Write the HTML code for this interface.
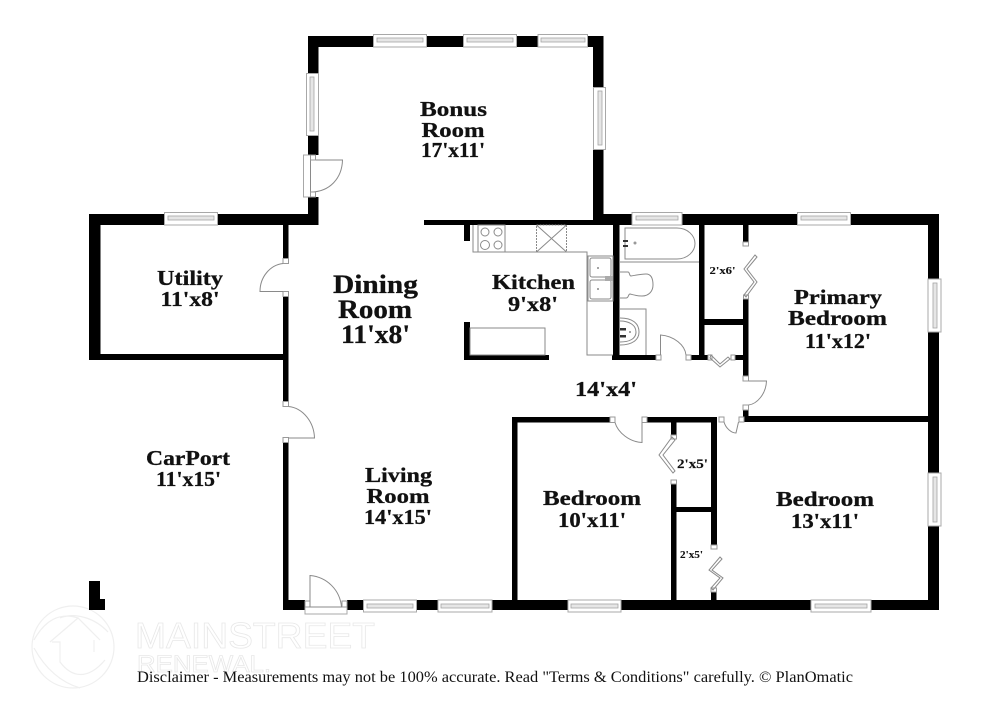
<!DOCTYPE html>
<html><head><meta charset="utf-8"><style>
html,body{margin:0;padding:0;background:#fff;width:990px;height:720px;overflow:hidden}
svg{display:block}
.w{fill:#000}
.l{fill:none;stroke:#8a8a8a;stroke-width:1}
.win{fill:#fff;stroke:#a8a8a8;stroke-width:1}
.wi{fill:#e6e6e6;stroke:#a5a5a5;stroke-width:.8}
.sq{fill:#fff;stroke:#999;stroke-width:1}
.t{font-family:"Liberation Serif",serif;font-weight:bold;fill:#111;text-anchor:middle;stroke:#111;stroke-width:.3}
</style></head><body>
<svg width="990" height="720" viewBox="0 0 990 720" xmlns="http://www.w3.org/2000/svg">
<!-- watermark -->
<g fill="none" stroke="#efefef" stroke-width="1.2">
<circle cx="73" cy="647" r="41"/>
<path d="M50 642 L78 618 L100 640 M52 642 H60 V662 C72 678 88 680 105 660 M94 640 V652"/>
<path d="M78 618 C60 612 45 620 34 640 M34 648 C45 668 60 682 80 688 M60 618 C75 612 95 618 108 632"/>
<text x="135" y="648" font-family="'Liberation Sans',sans-serif" font-size="36" textLength="240" lengthAdjust="spacingAndGlyphs" stroke="#e8e8e8" stroke-width=".8">MAINSTREET</text>
<text x="137" y="672" font-family="'Liberation Sans',sans-serif" font-size="24" textLength="134" lengthAdjust="spacingAndGlyphs" stroke="#e8e8e8" stroke-width=".8">RENEWAL.</text>
</g>
<!-- walls -->
<g class="w">
<rect x="308" y="36" width="295" height="11"/>
<rect x="308" y="36" width="10.5" height="119"/>
<rect x="308" y="197" width="10.5" height="28"/>
<rect x="593" y="36" width="10.5" height="189"/>
<rect x="424" y="220" width="180" height="5"/>
<rect x="593" y="214" width="346" height="11"/>
<rect x="89" y="214" width="229" height="11"/>
<rect x="89" y="214" width="11.5" height="146"/>
<rect x="89" y="354" width="199" height="6"/>
<rect x="283" y="225" width="5.5" height="33"/>
<rect x="283" y="296" width="5.5" height="105"/>
<rect x="283" y="442" width="5.5" height="168"/>
<rect x="283" y="600" width="22" height="10"/>
<rect x="347" y="600" width="16" height="10"/>
<rect x="417" y="600" width="21" height="10"/>
<rect x="492" y="600" width="447" height="10"/>
<rect x="89" y="581" width="11" height="29"/>
<rect x="89" y="599" width="16" height="11"/>
<rect x="464" y="225" width="6" height="16"/>
<rect x="464" y="322" width="6" height="38"/>
<rect x="464" y="355" width="85" height="5"/>
<rect x="613" y="225" width="6.5" height="135"/>
<rect x="612" y="355" width="44" height="5"/>
<rect x="699" y="225" width="5.5" height="135"/>
<rect x="691" y="355" width="17" height="5"/>
<rect x="735" y="355" width="13" height="5"/>
<rect x="743" y="225" width="5.5" height="17"/>
<rect x="743" y="299" width="5.5" height="77"/>
<rect x="743" y="409" width="5.5" height="13"/>
<rect x="704" y="319" width="39" height="6"/>
<rect x="743" y="416" width="185" height="6"/>
<rect x="928" y="214" width="11" height="65"/>
<rect x="928" y="332" width="11" height="141"/>
<rect x="928" y="526" width="11" height="84"/>
<rect x="512" y="417" width="98" height="5.5"/>
<rect x="512" y="417" width="5.5" height="185"/>
<rect x="647" y="417" width="70" height="5.5"/>
<rect x="711" y="417" width="6" height="128"/>
<rect x="671" y="417" width="5.5" height="18"/>
<rect x="671" y="484" width="5.5" height="118"/>
<rect x="676" y="507" width="35" height="5"/>
<rect x="711" y="592" width="5.5" height="9"/>
</g>
<!-- windows horizontal -->
<g>
<rect class="win" x="373.5" y="34.500" width="53" height="12.500"/><rect class="wi" x="377" y="38" width="46" height="4"/>
<rect class="win" x="463.500" y="34.500" width="53" height="12.500"/><rect class="wi" x="467" y="38" width="46" height="4"/>
<rect class="win" x="538" y="34.500" width="49.500" height="12.500"/><rect class="wi" x="541" y="38" width="44" height="4"/>
<rect class="win" x="164.500" y="212.500" width="53" height="12.500"/><rect class="wi" x="168" y="216" width="46" height="4"/>
<rect class="win" x="632" y="212.500" width="50" height="12.500"/><rect class="wi" x="636" y="216" width="42" height="4"/>
<rect class="win" x="797.500" y="212.500" width="53" height="12.500"/><rect class="wi" x="801" y="216" width="46" height="4"/>
<rect class="win" x="363.500" y="600" width="53" height="12"/><rect class="wi" x="367" y="604" width="46" height="4"/>
<rect class="win" x="438" y="600" width="54" height="12"/><rect class="wi" x="441" y="604" width="48" height="4"/>
<rect class="win" x="568" y="600" width="53" height="12"/><rect class="wi" x="571" y="604" width="47" height="4"/>
<rect class="win" x="811" y="600" width="60" height="12"/><rect class="wi" x="815" y="604" width="52" height="4"/>
<!-- vertical -->
<rect class="win" x="306.500" y="73.500" width="12" height="62"/><rect class="wi" x="310" y="77" width="4" height="54"/>
<rect class="win" x="593.500" y="87.500" width="12" height="62"/><rect class="wi" x="598" y="91" width="4" height="54"/>
<rect class="win" x="928" y="279" width="13" height="53"/><rect class="wi" x="933" y="283" width="4" height="45"/>
<rect class="win" x="928" y="473" width="13" height="53"/><rect class="wi" x="933" y="477" width="4" height="45"/>
</g>
<!-- doors -->
<g>
<rect class="win" x="303.500" y="155" width="7" height="42"/>
<path class="l" d="M310.500 160H342.500C342 178 330 192 310.500 192V160"/>
<rect class="sq" x="310.500" y="155" width="5" height="5"/><rect class="sq" x="310.500" y="192" width="5" height="5"/>
<!-- utility door -->
<rect class="sq" x="283" y="258.500" width="5.500" height="5"/><rect class="sq" x="283" y="291.500" width="5.500" height="5"/>
<path class="l" d="M283 263.500C270 265 260 277 260 291.500H283"/>
<!-- carport door -->
<rect class="sq" x="283" y="401.500" width="5.500" height="5"/><rect class="sq" x="283" y="437.500" width="5.500" height="5"/>
<path class="l" d="M288.500 406.500C303 408 314 422 314.500 438H288.500"/>
<!-- front door -->
<rect class="win" x="305" y="607" width="42" height="7"/>
<rect class="sq" x="305" y="601" width="5" height="6"/><rect class="sq" x="342" y="601" width="5" height="6"/>
<path class="l" d="M310 607V575.500C327 577 340 590 341.500 607Z"/>
<!-- bath door -->
<rect class="sq" x="656" y="355" width="5" height="5"/><rect class="sq" x="686" y="355" width="5" height="5"/>
<path class="l" d="M660.500 355V335C674 336 685 345 686 355"/>
<!-- closet fold h -->
<rect class="sq" x="708" y="355" width="4" height="5"/><rect class="sq" x="731" y="355" width="4" height="5"/>
<path class="l" d="M711 355L720 364L728 357L730 359L720 367L710 358Z"/>
<!-- primary door -->
<rect class="sq" x="743" y="376" width="5.500" height="5"/><rect class="sq" x="743" y="405" width="5.500" height="5"/>
<path class="l" d="M748.500 381H766.500C766 394 757 404 748.500 405"/>
<!-- bedroom2 door bath side -->
<rect class="sq" x="719" y="417" width="5" height="5"/><rect class="sq" x="739" y="417" width="5" height="5"/>
<path class="l" d="M724 422C726 429 732 433 736 433L738.500 422"/>
<!-- bedroom door -->
<rect class="sq" x="610" y="417" width="5" height="5.500"/><rect class="sq" x="642" y="417" width="5" height="5.500"/>
<path class="l" d="M615 422.500C618 433 630 442 642 442.500V422.500"/>
<!-- fold doors -->
<rect class="sq" x="743" y="242" width="5.500" height="4"/><rect class="sq" x="743.500" y="295" width="5" height="4"/>
<path class="l" d="M755 255L757 257L747 269L757 282L746 297L744 295L754 282L744 269Z"/>
<rect class="sq" x="671" y="435" width="5.500" height="4"/><rect class="sq" x="671" y="480" width="5.500" height="4"/>
<path class="l" d="M672 437L675 440L663 455L675 471L673 473L659 455Z"/>
<rect class="sq" x="711" y="545" width="6" height="4"/><rect class="sq" x="711" y="588" width="5.500" height="4"/>
<path class="l" d="M720 557L722 559L712 570L723 578L713 590L711 588L720 578L709 570Z"/>
</g>
<!-- kitchen fixtures -->
<g>
<path class="l" d="M473 225V252H587V355H613"/>
<rect class="l" x="478" y="225" width="27" height="27"/>
<circle class="l" cx="485" cy="232" r="4"/><circle class="l" cx="498" cy="232" r="4"/><circle class="l" cx="485" cy="245" r="4.500"/><circle class="l" cx="498" cy="245" r="4"/>
<rect class="l" x="536.500" y="225" width="30" height="27" stroke-dasharray="2 1"/>
<path class="l" d="M536.500 225L566.500 252M566.500 225L536.500 252"/>
<rect class="l" x="588" y="256" width="25" height="45"/>
<rect class="l" x="590" y="258" width="21" height="19" rx="2"/><rect class="l" x="590" y="280" width="21" height="19" rx="2"/>
<circle cx="598" cy="268" r="1" fill="#888"/><circle cx="598" cy="289" r="1" fill="#888"/>
<rect x="605" y="276" width="8" height="5" fill="#aaa"/>
<rect class="l" x="470" y="328" width="75" height="27"/>
<!-- bath -->
<path class="l" d="M625 228H677C688 228 695 236 695 243.500C695 251 688 259 677 259H625Z"/>
<path class="l" d="M620 262H699"/>
<circle cx="635" cy="243" r="1.500" fill="#999"/>
<rect x="623" y="240" width="5" height="2" fill="#333"/><rect x="623" y="245" width="5" height="2" fill="#333"/>
<path class="l" d="M620 272H628C630 272 629 276 631 276C637 275 641 274 646 274C652 274 653 280 653 285C653 291 649 296 642 296C637 296 634 295 630 294C628 294 629 298 626 298H620"/>
<path class="l" d="M620 309H646V355"/>
<path class="l" d="M620 318C632 318 639 323 639 332C639 340 632 345 620 345"/>
<path class="l" d="M620 321C629 321 636 325 636 332C636 339 629 342 620 342"/>
<circle cx="630" cy="332" r="1" fill="#888"/>
<rect x="620" y="328" width="6" height="2.500" fill="#333"/><rect x="620" y="335" width="6" height="2.500" fill="#333"/>
</g>
<!-- labels -->
<g class="t" font-size="21.500">
<text x="453.500" y="116" textLength="67" lengthAdjust="spacingAndGlyphs">Bonus</text>
<text x="453" y="137" textLength="63" lengthAdjust="spacingAndGlyphs">Room</text>
<text x="453" y="157" textLength="64" lengthAdjust="spacingAndGlyphs">17'x11'</text>
<text x="190" y="285" textLength="66" lengthAdjust="spacingAndGlyphs">Utility</text>
<text x="190" y="306" textLength="59" lengthAdjust="spacingAndGlyphs">11'x8'</text>
<text x="375.500" y="293" font-size="26" textLength="85" lengthAdjust="spacingAndGlyphs">Dining</text>
<text x="375" y="318" font-size="26" textLength="74" lengthAdjust="spacingAndGlyphs">Room</text>
<text x="375.500" y="343" font-size="26" textLength="69" lengthAdjust="spacingAndGlyphs">11'x8'</text>
<text x="533.500" y="289" textLength="83" lengthAdjust="spacingAndGlyphs">Kitchen</text>
<text x="533" y="311" textLength="50" lengthAdjust="spacingAndGlyphs">9'x8'</text>
<text x="838" y="304" textLength="88" lengthAdjust="spacingAndGlyphs">Primary</text>
<text x="837.500" y="325" textLength="99" lengthAdjust="spacingAndGlyphs">Bedroom</text>
<text x="838" y="348" textLength="66" lengthAdjust="spacingAndGlyphs">11'x12'</text>
<text x="606" y="396" textLength="62" lengthAdjust="spacingAndGlyphs">14'x4'</text>
<text x="188" y="465" textLength="84" lengthAdjust="spacingAndGlyphs">CarPort</text>
<text x="188.500" y="486" textLength="65" lengthAdjust="spacingAndGlyphs">11'x15'</text>
<text x="398.500" y="482" textLength="67" lengthAdjust="spacingAndGlyphs">Living</text>
<text x="398" y="503" textLength="63" lengthAdjust="spacingAndGlyphs">Room</text>
<text x="398" y="524" textLength="68" lengthAdjust="spacingAndGlyphs">14'x15'</text>
<text x="592" y="505" textLength="98" lengthAdjust="spacingAndGlyphs">Bedroom</text>
<text x="592" y="527" textLength="68" lengthAdjust="spacingAndGlyphs">10'x11'</text>
<text x="825" y="506" textLength="98" lengthAdjust="spacingAndGlyphs">Bedroom</text>
<text x="825" y="528" textLength="68" lengthAdjust="spacingAndGlyphs">13'x11'</text>
<text x="722.500" y="274" font-size="10" textLength="26" lengthAdjust="spacingAndGlyphs" stroke-width=".1">2'x6'</text>
<text x="692.500" y="468" font-size="13" textLength="31" lengthAdjust="spacingAndGlyphs" stroke-width=".15">2'x5'</text>
<text x="691.500" y="558" font-size="10.500" textLength="23" lengthAdjust="spacingAndGlyphs" stroke-width=".1">2'x5'</text>
</g>
<text x="137" y="682" font-family="'Liberation Serif',serif" font-size="15.500" fill="#111" textLength="716" lengthAdjust="spacingAndGlyphs">Disclaimer - Measurements may not be 100% accurate. Read "Terms &amp; Conditions" carefully. © PlanOmatic</text>
</svg>
</body></html>
